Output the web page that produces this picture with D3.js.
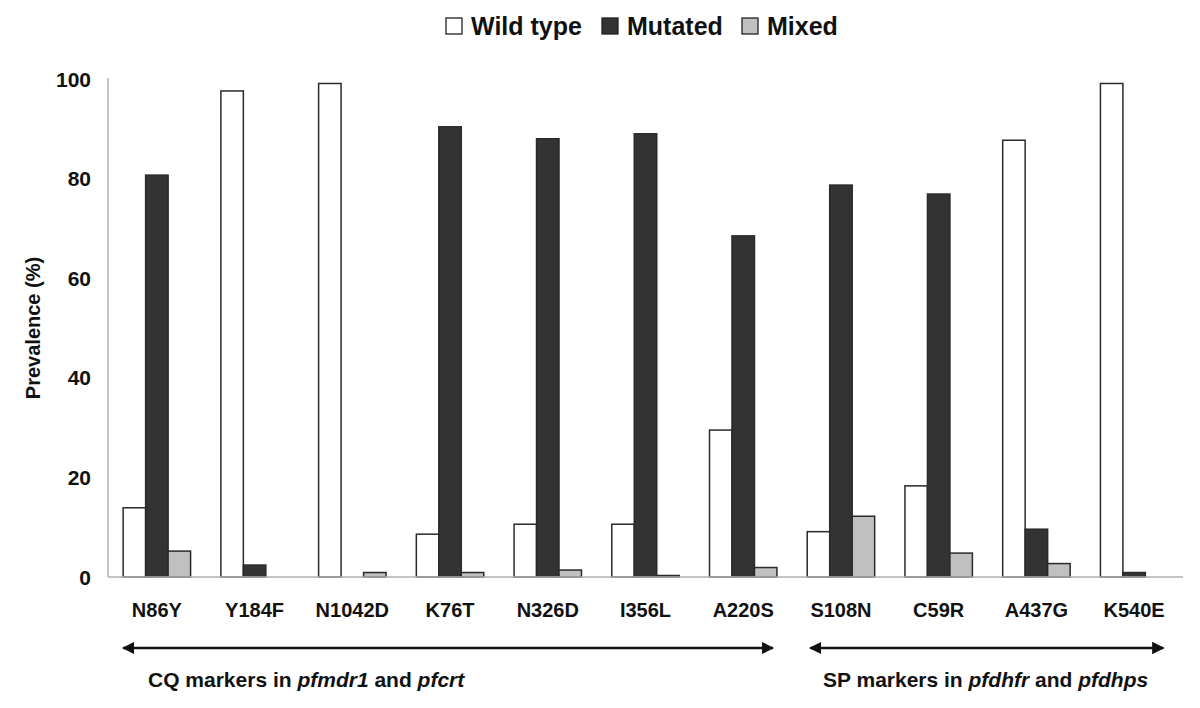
<!DOCTYPE html>
<html><head><meta charset="utf-8">
<script src="https://cdn.jsdelivr.net/npm/d3@7"></script>
<style>body{margin:0;background:#fff;} text{font-family:"Liberation Sans",Arial,sans-serif;font-weight:bold;}</style>
</head><body>
<svg id="c" width="1200" height="708"></svg>
<script>
const categories = ["N86Y","Y184F","N1042D","K76T","N326D","I356L","A220S","S108N","C59R","A437G","K540E"];
const wildType = [13.9, 97.6, 99.1, 8.6, 10.6, 10.6, 29.5, 9.1, 18.3, 87.7, 99.1];
const mutated  = [80.7, 2.4, 0, 90.4, 88.0, 89.0, 68.5, 78.7, 76.9, 9.6, 0.9];
const mixed    = [5.2, 0, 0.9, 0.9, 1.4, 0.3, 1.9, 12.2, 4.8, 2.7, 0];
const seriesNames = ["Wild type","Mutated","Mixed"];
const yTicks = [0,20,40,60,80,100];
const seriesColors = ["#ffffff","#333333","#c0c0c0"];

(function(){
const svg = d3.select("#c");
const pLeft = 108, pRight = 1183, pTop = 79, pBottom = 577;
const x = d3.scaleBand().domain(categories).range([pLeft, pRight]).paddingInner(0.31).paddingOuter(0.155);
const xs = d3.scaleBand().domain(seriesNames).range([0, x.bandwidth()]);
const y = d3.scaleLinear().domain([0,100]).range([pBottom, pTop]);

const data = categories.map((c,i)=>({cat:c, vals:[wildType[i], mutated[i], mixed[i]]}));

svg.append("line").attr("x1",pLeft).attr("x2",pLeft).attr("y1",y(100)-1).attr("y2",pBottom).attr("stroke","#b0b0b0").attr("stroke-width",1.5);

svg.selectAll(".yt").data(yTicks).enter().append("text")
  .attr("x", 91).attr("y", d=>y(d)).attr("dy","0.36em").attr("text-anchor","end")
  .attr("font-size",21).attr("fill","#111").text(d=>d);

const g = svg.selectAll(".grp").data(data).enter().append("g").attr("transform", d=>`translate(${x(d.cat)},0)`);
g.selectAll("rect").data(d=>d.vals.map((v,k)=>({v,k})).filter(e=>e.v>0)).enter().append("rect")
  .attr("x", d=>xs(seriesNames[d.k])).attr("width", xs.bandwidth())
  .attr("y", d=>y(d.v)).attr("height", d=>pBottom - y(d.v))
  .attr("fill", d=>seriesColors[d.k]).attr("stroke","#2a2a2a").attr("stroke-width",1.5);

svg.append("line").attr("x1",pLeft).attr("x2",pRight).attr("y1",pBottom).attr("y2",pBottom).attr("stroke","#b0b0b0").attr("stroke-width",1.5);

svg.selectAll(".xl").data(categories).enter().append("text")
  .attr("x", d=>x(d)+x.bandwidth()/2).attr("y", 617).attr("text-anchor","middle")
  .attr("font-size",20).attr("fill","#111").text(d=>d);

svg.append("text").attr("transform","translate(40,328) rotate(-90)").attr("text-anchor","middle")
  .attr("font-size",20).attr("fill","#111").text("Prevalence (%)");

const legX = [446, 602, 742];
seriesNames.forEach((s,i)=>{
  svg.append("rect").attr("x",legX[i]).attr("y",18).attr("width",16).attr("height",16)
    .attr("fill",seriesColors[i]).attr("stroke","#222").attr("stroke-width",1.3);
  svg.append("text").attr("x",legX[i]+25).attr("y",35).attr("font-size",25).attr("fill","#111").text(s);
});

svg.append("defs").html(`<marker id="ah" viewBox="0 0 10 10" refX="9" refY="5" markerWidth="5" markerHeight="5" orient="auto-start-reverse"><path d="M0,0 L10,5 L0,10 z" fill="#111"/></marker>`);
const groups = [
  {from:"N86Y", to:"A220S", startTrim:0, endTrim:-4},
  {from:"S108N", to:"K540E", startTrim:3, endTrim:-4.5}
];
groups.forEach(gr=>{
  svg.append("line").attr("x1", x(gr.from)+gr.startTrim).attr("x2", x(gr.to)+x.bandwidth()+gr.endTrim)
    .attr("y1",648).attr("y2",648).attr("stroke","#111").attr("stroke-width",2.5)
    .attr("marker-start","url(#ah)").attr("marker-end","url(#ah)");
});
const t1 = svg.append("text").attr("x",148).attr("y",687).attr("font-size",21).attr("fill","#111");
t1.append("tspan").text("CQ markers in ");
t1.append("tspan").attr("font-style","italic").text("pfmdr1");
t1.append("tspan").text(" and ");
t1.append("tspan").attr("font-style","italic").text("pfcrt");
const t2 = svg.append("text").attr("x",823).attr("y",687).attr("font-size",21).attr("fill","#111");
t2.append("tspan").text("SP markers in ");
t2.append("tspan").attr("font-style","italic").text("pfdhfr");
t2.append("tspan").text(" and ");
t2.append("tspan").attr("font-style","italic").text("pfdhps");
})();
</script>
</body></html>
